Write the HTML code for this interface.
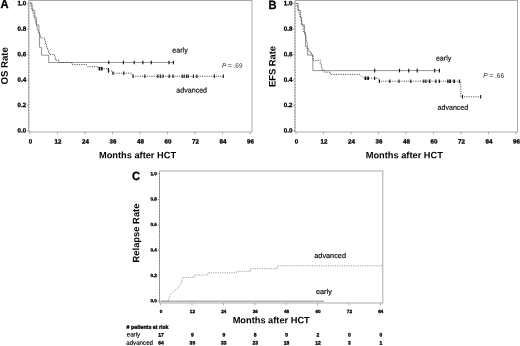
<!DOCTYPE html>
<html><head><meta charset="utf-8"><title>Figure</title>
<style>
html,body{margin:0;padding:0;background:#fff;}
body{width:520px;height:346px;overflow:hidden;font-family:"Liberation Sans",sans-serif;}
svg{display:block;text-rendering:geometricPrecision;font-family:"Liberation Sans",sans-serif;filter:blur(0.35px);}
</style></head><body>
<svg width="520" height="346" viewBox="0 0 520 346">
<rect x="0" y="0" width="520" height="346" fill="#fff"/>
<rect x="28.8" y="0.5" width="223.2" height="131.5" fill="none" stroke="#a2a2a2" stroke-width="0.9"/><line x1="28.8" y1="2.5" x2="28.8" y2="132" stroke="#6f6f6f" stroke-width="0.8" stroke-dasharray="1.2,1.7"/><line x1="30.0" y1="132" x2="30.0" y2="134.2" stroke="#a2a2a2" stroke-width="0.9"/><text transform="translate(30.40,143.60) rotate(0.03)" font-size="6.2" font-weight="bold" text-anchor="middle" fill="#000" stroke="#000" stroke-width="0.3">0</text><line x1="57.5" y1="132" x2="57.5" y2="134.2" stroke="#a2a2a2" stroke-width="0.9"/><text transform="translate(57.90,143.60) rotate(0.03)" font-size="6.2" font-weight="bold" text-anchor="middle" fill="#000" stroke="#000" stroke-width="0.3">12</text><line x1="85.0" y1="132" x2="85.0" y2="134.2" stroke="#a2a2a2" stroke-width="0.9"/><text transform="translate(85.40,143.60) rotate(0.03)" font-size="6.2" font-weight="bold" text-anchor="middle" fill="#000" stroke="#000" stroke-width="0.3">24</text><line x1="112.5" y1="132" x2="112.5" y2="134.2" stroke="#a2a2a2" stroke-width="0.9"/><text transform="translate(112.90,143.60) rotate(0.03)" font-size="6.2" font-weight="bold" text-anchor="middle" fill="#000" stroke="#000" stroke-width="0.3">36</text><line x1="140.0" y1="132" x2="140.0" y2="134.2" stroke="#a2a2a2" stroke-width="0.9"/><text transform="translate(140.40,143.60) rotate(0.03)" font-size="6.2" font-weight="bold" text-anchor="middle" fill="#000" stroke="#000" stroke-width="0.3">48</text><line x1="167.5" y1="132" x2="167.5" y2="134.2" stroke="#a2a2a2" stroke-width="0.9"/><text transform="translate(167.90,143.60) rotate(0.03)" font-size="6.2" font-weight="bold" text-anchor="middle" fill="#000" stroke="#000" stroke-width="0.3">60</text><line x1="195.0" y1="132" x2="195.0" y2="134.2" stroke="#a2a2a2" stroke-width="0.9"/><text transform="translate(195.40,143.60) rotate(0.03)" font-size="6.2" font-weight="bold" text-anchor="middle" fill="#000" stroke="#000" stroke-width="0.3">72</text><line x1="222.5" y1="132" x2="222.5" y2="134.2" stroke="#a2a2a2" stroke-width="0.9"/><text transform="translate(222.90,143.60) rotate(0.03)" font-size="6.2" font-weight="bold" text-anchor="middle" fill="#000" stroke="#000" stroke-width="0.3">84</text><line x1="250.0" y1="132" x2="250.0" y2="134.2" stroke="#a2a2a2" stroke-width="0.9"/><text transform="translate(250.40,143.60) rotate(0.03)" font-size="6.2" font-weight="bold" text-anchor="middle" fill="#000" stroke="#000" stroke-width="0.3">96</text><line x1="26.8" y1="130.8" x2="28.8" y2="130.8" stroke="#a2a2a2" stroke-width="0.9"/><text transform="translate(26.20,132.53) rotate(0.03)" font-size="6.2" font-weight="bold" text-anchor="end" fill="#000" stroke="#000" stroke-width="0.3">0.0</text><line x1="26.8" y1="105.4" x2="28.8" y2="105.4" stroke="#a2a2a2" stroke-width="0.9"/><text transform="translate(26.20,107.09) rotate(0.03)" font-size="6.2" font-weight="bold" text-anchor="end" fill="#000" stroke="#000" stroke-width="0.3">0.2</text><line x1="26.8" y1="79.9" x2="28.8" y2="79.9" stroke="#a2a2a2" stroke-width="0.9"/><text transform="translate(26.20,81.65) rotate(0.03)" font-size="6.2" font-weight="bold" text-anchor="end" fill="#000" stroke="#000" stroke-width="0.3">0.4</text><line x1="26.8" y1="54.5" x2="28.8" y2="54.5" stroke="#a2a2a2" stroke-width="0.9"/><text transform="translate(26.20,56.21) rotate(0.03)" font-size="6.2" font-weight="bold" text-anchor="end" fill="#000" stroke="#000" stroke-width="0.3">0.6</text><line x1="26.8" y1="29.0" x2="28.8" y2="29.0" stroke="#a2a2a2" stroke-width="0.9"/><text transform="translate(26.20,30.77) rotate(0.03)" font-size="6.2" font-weight="bold" text-anchor="end" fill="#000" stroke="#000" stroke-width="0.3">0.8</text><line x1="26.8" y1="3.6" x2="28.8" y2="3.6" stroke="#a2a2a2" stroke-width="0.9"/><text transform="translate(26.20,5.33) rotate(0.03)" font-size="6.2" font-weight="bold" text-anchor="end" fill="#000" stroke="#000" stroke-width="0.3">1.0</text>
<polyline points="30.0,3.2 32.0,3.2 32.0,10.4 34.8,10.4 34.8,17.8 36.5,17.8 36.5,24.9 38.9,24.9 38.9,33.0 39.5,33.0 39.5,47.3 41.5,47.3 41.5,55.2 48.7,55.2 48.7,62.5 173.4,62.5" fill="none" stroke="#5e5e5e" stroke-width="0.65"/>
<polyline points="30.0,3.2 31.0,3.2 31.0,6.0 32.0,6.0 32.0,9.0 33.0,9.0 33.0,13.0 34.0,13.0 34.0,17.0 35.0,17.0 35.0,21.0 36.0,21.0 36.0,25.0 37.0,25.0 37.0,29.0 38.0,29.0 38.0,32.0 39.5,32.0 39.5,35.0 40.5,35.0 40.5,38.0 44.6,38.0 44.6,41.0 45.5,41.0 45.5,44.0 46.5,44.0 46.5,47.0 47.5,47.0 47.5,50.0 48.5,50.0 48.5,53.0 49.5,53.0 49.5,54.5 54.5,54.5 54.5,57.0 55.5,57.0 55.5,60.3 59.0,60.3 59.0,62.5 72.0,62.5 72.0,64.6 86.5,64.6 88.0,66.7 98.0,66.7 98.0,68.7 107.8,68.7 108.4,71.0 112.0,71.0 113.0,73.2 131.5,73.2 133.0,76.3 223.3,76.3" fill="none" stroke="#333" stroke-width="0.8" stroke-dasharray="1.2,1.1"/>
<line x1="108.7" y1="60.7" x2="108.7" y2="64.3" stroke="#111" stroke-width="1.1"/><line x1="123.4" y1="60.7" x2="123.4" y2="64.3" stroke="#111" stroke-width="1.1"/><line x1="134.2" y1="60.7" x2="134.2" y2="64.3" stroke="#111" stroke-width="1.1"/><line x1="142.9" y1="60.7" x2="142.9" y2="64.3" stroke="#111" stroke-width="1.1"/><line x1="151.3" y1="60.7" x2="151.3" y2="64.3" stroke="#111" stroke-width="1.1"/><line x1="169.0" y1="60.7" x2="169.0" y2="64.3" stroke="#111" stroke-width="1.1"/><line x1="173.4" y1="60.7" x2="173.4" y2="64.3" stroke="#111" stroke-width="1.1"/>
<line x1="99.5" y1="66.9" x2="99.5" y2="70.5" stroke="#111" stroke-width="1.7"/><line x1="101.8" y1="66.9" x2="101.8" y2="70.5" stroke="#111" stroke-width="1.7"/>
<line x1="108.4" y1="67.9" x2="108.4" y2="72.7" stroke="#111" stroke-width="1.1"/>
<line x1="113.0" y1="71.4" x2="113.0" y2="75.0" stroke="#111" stroke-width="1.1"/><line x1="123.8" y1="71.4" x2="123.8" y2="75.0" stroke="#111" stroke-width="1.1"/>
<line x1="133.0" y1="74.5" x2="133.0" y2="78.1" stroke="#111" stroke-width="1.1"/><line x1="144.9" y1="74.5" x2="144.9" y2="78.1" stroke="#111" stroke-width="1.1"/><line x1="157.8" y1="74.5" x2="157.8" y2="78.1" stroke="#111" stroke-width="1.1"/><line x1="160.3" y1="74.5" x2="160.3" y2="78.1" stroke="#111" stroke-width="1.1"/><line x1="163.0" y1="74.5" x2="163.0" y2="78.1" stroke="#111" stroke-width="1.1"/><line x1="169.2" y1="74.5" x2="169.2" y2="78.1" stroke="#111" stroke-width="1.1"/><line x1="173.0" y1="74.5" x2="173.0" y2="78.1" stroke="#111" stroke-width="1.1"/><line x1="182.2" y1="74.5" x2="182.2" y2="78.1" stroke="#111" stroke-width="1.1"/><line x1="184.2" y1="74.5" x2="184.2" y2="78.1" stroke="#111" stroke-width="1.1"/><line x1="186.6" y1="74.5" x2="186.6" y2="78.1" stroke="#111" stroke-width="1.1"/><line x1="188.2" y1="74.5" x2="188.2" y2="78.1" stroke="#111" stroke-width="1.1"/><line x1="193.4" y1="74.5" x2="193.4" y2="78.1" stroke="#111" stroke-width="1.1"/><line x1="196.8" y1="74.5" x2="196.8" y2="78.1" stroke="#111" stroke-width="1.1"/><line x1="214.3" y1="74.5" x2="214.3" y2="78.1" stroke="#111" stroke-width="1.1"/><line x1="223.3" y1="74.5" x2="223.3" y2="78.1" stroke="#111" stroke-width="1.1"/>
<text transform="translate(172.30,52.60) rotate(0.03)" font-size="7.1" font-weight="normal" text-anchor="start" fill="#000" stroke="#000" stroke-width="0.15">early</text>
<text transform="translate(176.30,92.50) rotate(0.03)" font-size="7.1" font-weight="normal" text-anchor="start" fill="#000" stroke="#000" stroke-width="0.15">advanced</text>
<text transform="translate(222.00,67.80) rotate(0.03)" font-size="6.4" font-weight="normal" text-anchor="start" fill="#222"><tspan font-style="italic">P</tspan> = .69</text>
<text transform="translate(0.4,8.4) rotate(0.03) scale(0.93,1)" font-size="12" font-weight="bold" fill="#000" stroke="#000" stroke-width="0.3">A</text>
<text transform="translate(137.50,158.30) rotate(0.03)" font-size="9.25" font-weight="bold" text-anchor="middle" fill="#000">Months after HCT</text>
<text x="0.0" y="0.0" font-size="9.6" font-weight="bold" text-anchor="middle" fill="#000" transform="translate(7.8,65.8) rotate(-90.03)">OS Rate</text>
<rect x="295" y="0.5" width="222.5" height="131.5" fill="none" stroke="#a2a2a2" stroke-width="0.9"/><line x1="295" y1="2.5" x2="295" y2="132" stroke="#6f6f6f" stroke-width="0.8" stroke-dasharray="1.2,1.7"/><line x1="296.0" y1="132" x2="296.0" y2="134.2" stroke="#a2a2a2" stroke-width="0.9"/><text transform="translate(296.40,143.60) rotate(0.03)" font-size="6.2" font-weight="bold" text-anchor="middle" fill="#000" stroke="#000" stroke-width="0.3">0</text><line x1="323.5" y1="132" x2="323.5" y2="134.2" stroke="#a2a2a2" stroke-width="0.9"/><text transform="translate(323.90,143.60) rotate(0.03)" font-size="6.2" font-weight="bold" text-anchor="middle" fill="#000" stroke="#000" stroke-width="0.3">12</text><line x1="351.0" y1="132" x2="351.0" y2="134.2" stroke="#a2a2a2" stroke-width="0.9"/><text transform="translate(351.40,143.60) rotate(0.03)" font-size="6.2" font-weight="bold" text-anchor="middle" fill="#000" stroke="#000" stroke-width="0.3">24</text><line x1="378.5" y1="132" x2="378.5" y2="134.2" stroke="#a2a2a2" stroke-width="0.9"/><text transform="translate(378.90,143.60) rotate(0.03)" font-size="6.2" font-weight="bold" text-anchor="middle" fill="#000" stroke="#000" stroke-width="0.3">36</text><line x1="406.0" y1="132" x2="406.0" y2="134.2" stroke="#a2a2a2" stroke-width="0.9"/><text transform="translate(406.40,143.60) rotate(0.03)" font-size="6.2" font-weight="bold" text-anchor="middle" fill="#000" stroke="#000" stroke-width="0.3">48</text><line x1="433.5" y1="132" x2="433.5" y2="134.2" stroke="#a2a2a2" stroke-width="0.9"/><text transform="translate(433.90,143.60) rotate(0.03)" font-size="6.2" font-weight="bold" text-anchor="middle" fill="#000" stroke="#000" stroke-width="0.3">60</text><line x1="461.0" y1="132" x2="461.0" y2="134.2" stroke="#a2a2a2" stroke-width="0.9"/><text transform="translate(461.40,143.60) rotate(0.03)" font-size="6.2" font-weight="bold" text-anchor="middle" fill="#000" stroke="#000" stroke-width="0.3">72</text><line x1="488.5" y1="132" x2="488.5" y2="134.2" stroke="#a2a2a2" stroke-width="0.9"/><text transform="translate(488.90,143.60) rotate(0.03)" font-size="6.2" font-weight="bold" text-anchor="middle" fill="#000" stroke="#000" stroke-width="0.3">84</text><line x1="516.0" y1="132" x2="516.0" y2="134.2" stroke="#a2a2a2" stroke-width="0.9"/><text transform="translate(516.40,143.60) rotate(0.03)" font-size="6.2" font-weight="bold" text-anchor="middle" fill="#000" stroke="#000" stroke-width="0.3">96</text><line x1="293" y1="130.8" x2="295" y2="130.8" stroke="#a2a2a2" stroke-width="0.9"/><text transform="translate(292.40,132.53) rotate(0.03)" font-size="6.2" font-weight="bold" text-anchor="end" fill="#000" stroke="#000" stroke-width="0.3">0.0</text><line x1="293" y1="105.4" x2="295" y2="105.4" stroke="#a2a2a2" stroke-width="0.9"/><text transform="translate(292.40,107.09) rotate(0.03)" font-size="6.2" font-weight="bold" text-anchor="end" fill="#000" stroke="#000" stroke-width="0.3">0.2</text><line x1="293" y1="79.9" x2="295" y2="79.9" stroke="#a2a2a2" stroke-width="0.9"/><text transform="translate(292.40,81.65) rotate(0.03)" font-size="6.2" font-weight="bold" text-anchor="end" fill="#000" stroke="#000" stroke-width="0.3">0.4</text><line x1="293" y1="54.5" x2="295" y2="54.5" stroke="#a2a2a2" stroke-width="0.9"/><text transform="translate(292.40,56.21) rotate(0.03)" font-size="6.2" font-weight="bold" text-anchor="end" fill="#000" stroke="#000" stroke-width="0.3">0.6</text><line x1="293" y1="29.0" x2="295" y2="29.0" stroke="#a2a2a2" stroke-width="0.9"/><text transform="translate(292.40,30.77) rotate(0.03)" font-size="6.2" font-weight="bold" text-anchor="end" fill="#000" stroke="#000" stroke-width="0.3">0.8</text><line x1="293" y1="3.6" x2="295" y2="3.6" stroke="#a2a2a2" stroke-width="0.9"/><text transform="translate(292.40,5.33) rotate(0.03)" font-size="6.2" font-weight="bold" text-anchor="end" fill="#000" stroke="#000" stroke-width="0.3">1.0</text>
<polyline points="296.4,3.4 298.0,3.4 298.0,10.4 300.6,10.4 300.6,17.5 301.5,17.5 301.5,24.9 304.5,24.9 304.5,33.5 305.6,33.5 305.6,46.8 307.6,46.8 307.6,55.1 312.8,55.1 312.8,70.6 439.4,70.6" fill="none" stroke="#5e5e5e" stroke-width="0.65"/>
<polyline points="296.4,3.4 297.0,3.4 297.0,6.0 298.0,6.0 298.0,10.0 299.0,10.0 299.0,14.0 300.0,14.0 300.0,17.0 301.0,17.0 301.0,21.0 302.0,21.0 302.0,25.0 303.3,25.0 303.3,32.0 305.0,32.0 305.0,36.0 306.2,36.0 306.2,42.0 307.3,42.0 307.3,49.0 309.0,49.0 309.0,52.0 311.4,52.0 311.4,54.9 313.1,54.9 313.1,60.4 320.3,60.4 320.3,64.0 321.4,64.0 321.4,68.0 322.4,68.0 322.4,70.6 324.7,70.6 324.7,72.2 330.5,72.2 330.5,74.4 359.5,74.4 363.8,78.2 378.0,78.2 379.4,81.2 460.8,81.2 460.8,96.8 480.7,96.8" fill="none" stroke="#333" stroke-width="0.8" stroke-dasharray="1.2,1.1"/>
<line x1="374.7" y1="68.8" x2="374.7" y2="72.4" stroke="#111" stroke-width="1.1"/><line x1="399.5" y1="68.8" x2="399.5" y2="72.4" stroke="#111" stroke-width="1.1"/><line x1="408.7" y1="68.8" x2="408.7" y2="72.4" stroke="#111" stroke-width="1.1"/><line x1="417.2" y1="68.8" x2="417.2" y2="72.4" stroke="#111" stroke-width="1.1"/><line x1="434.7" y1="68.8" x2="434.7" y2="72.4" stroke="#111" stroke-width="1.1"/><line x1="439.4" y1="68.8" x2="439.4" y2="72.4" stroke="#111" stroke-width="1.1"/>
<line x1="365.5" y1="76.4" x2="365.5" y2="80.0" stroke="#111" stroke-width="1.7"/><line x1="368.1" y1="76.4" x2="368.1" y2="80.0" stroke="#111" stroke-width="1.7"/>
<line x1="374.7" y1="76.4" x2="374.7" y2="80.0" stroke="#111" stroke-width="1.1"/>
<line x1="379.4" y1="79.4" x2="379.4" y2="83.0" stroke="#111" stroke-width="1.1"/><line x1="389.8" y1="79.4" x2="389.8" y2="83.0" stroke="#111" stroke-width="1.1"/><line x1="399.0" y1="79.4" x2="399.0" y2="83.0" stroke="#111" stroke-width="1.1"/><line x1="410.8" y1="79.4" x2="410.8" y2="83.0" stroke="#111" stroke-width="1.1"/><line x1="423.8" y1="79.4" x2="423.8" y2="83.0" stroke="#111" stroke-width="1.1"/><line x1="425.9" y1="79.4" x2="425.9" y2="83.0" stroke="#111" stroke-width="1.1"/><line x1="435.9" y1="79.4" x2="435.9" y2="83.0" stroke="#111" stroke-width="1.1"/><line x1="439.4" y1="79.4" x2="439.4" y2="83.0" stroke="#111" stroke-width="1.1"/><line x1="447.8" y1="79.4" x2="447.8" y2="83.0" stroke="#111" stroke-width="1.1"/><line x1="449.2" y1="79.4" x2="449.2" y2="83.0" stroke="#111" stroke-width="1.1"/><line x1="450.6" y1="79.4" x2="450.6" y2="83.0" stroke="#111" stroke-width="1.1"/><line x1="459.4" y1="79.4" x2="459.4" y2="83.0" stroke="#111" stroke-width="1.1"/>
<line x1="429.5" y1="79.4" x2="429.5" y2="83.0" stroke="#111" stroke-width="1.6"/><line x1="454.2" y1="79.4" x2="454.2" y2="83.0" stroke="#111" stroke-width="1.6"/>
<line x1="462.5" y1="95.0" x2="462.5" y2="98.6" stroke="#111" stroke-width="1.1"/><line x1="480.7" y1="95.0" x2="480.7" y2="98.6" stroke="#111" stroke-width="1.1"/>
<text transform="translate(435.90,60.60) rotate(0.03)" font-size="7.1" font-weight="normal" text-anchor="start" fill="#000" stroke="#000" stroke-width="0.15">early</text>
<text transform="translate(437.50,109.80) rotate(0.03)" font-size="7.1" font-weight="normal" text-anchor="start" fill="#000" stroke="#000" stroke-width="0.15">advanced</text>
<text transform="translate(483.30,77.80) rotate(0.03)" font-size="6.5" font-weight="normal" text-anchor="start" fill="#222"><tspan font-style="italic">P</tspan> = .66</text>
<text transform="translate(268.4,8.5) rotate(0.03) scale(0.93,1)" font-size="12" font-weight="bold" fill="#000" stroke="#000" stroke-width="0.3">B</text>
<text transform="translate(404.30,158.30) rotate(0.03)" font-size="9.25" font-weight="bold" text-anchor="middle" fill="#000">Months after HCT</text>
<text x="0.0" y="0.0" font-size="9.4" font-weight="bold" text-anchor="middle" fill="#000" transform="translate(275.4,66.5) rotate(-90.03)">EFS Rate</text>
<rect x="159.5" y="171" width="223.3" height="132" fill="none" stroke="#a2a2a2" stroke-width="0.9"/><line x1="159.5" y1="173" x2="159.5" y2="303" stroke="#6f6f6f" stroke-width="0.8" stroke-dasharray="1.2,1.7"/><line x1="160.6" y1="303" x2="160.6" y2="305.2" stroke="#a2a2a2" stroke-width="0.9"/><text transform="translate(161.00,312.90) rotate(0.03)" font-size="4.6" font-weight="bold" text-anchor="middle" fill="#000" stroke="#000" stroke-width="0.3">0</text><line x1="192.0" y1="303" x2="192.0" y2="305.2" stroke="#a2a2a2" stroke-width="0.9"/><text transform="translate(192.40,312.90) rotate(0.03)" font-size="4.6" font-weight="bold" text-anchor="middle" fill="#000" stroke="#000" stroke-width="0.3">12</text><line x1="223.4" y1="303" x2="223.4" y2="305.2" stroke="#a2a2a2" stroke-width="0.9"/><text transform="translate(223.80,312.90) rotate(0.03)" font-size="4.6" font-weight="bold" text-anchor="middle" fill="#000" stroke="#000" stroke-width="0.3">24</text><line x1="254.8" y1="303" x2="254.8" y2="305.2" stroke="#a2a2a2" stroke-width="0.9"/><text transform="translate(255.20,312.90) rotate(0.03)" font-size="4.6" font-weight="bold" text-anchor="middle" fill="#000" stroke="#000" stroke-width="0.3">36</text><line x1="286.2" y1="303" x2="286.2" y2="305.2" stroke="#a2a2a2" stroke-width="0.9"/><text transform="translate(286.60,312.90) rotate(0.03)" font-size="4.6" font-weight="bold" text-anchor="middle" fill="#000" stroke="#000" stroke-width="0.3">48</text><line x1="317.6" y1="303" x2="317.6" y2="305.2" stroke="#a2a2a2" stroke-width="0.9"/><text transform="translate(318.00,312.90) rotate(0.03)" font-size="4.6" font-weight="bold" text-anchor="middle" fill="#000" stroke="#000" stroke-width="0.3">60</text><line x1="349.0" y1="303" x2="349.0" y2="305.2" stroke="#a2a2a2" stroke-width="0.9"/><text transform="translate(349.40,312.90) rotate(0.03)" font-size="4.6" font-weight="bold" text-anchor="middle" fill="#000" stroke="#000" stroke-width="0.3">72</text><line x1="380.4" y1="303" x2="380.4" y2="305.2" stroke="#a2a2a2" stroke-width="0.9"/><text transform="translate(380.80,312.90) rotate(0.03)" font-size="4.6" font-weight="bold" text-anchor="middle" fill="#000" stroke="#000" stroke-width="0.3">84</text><line x1="157.5" y1="301.2" x2="159.5" y2="301.2" stroke="#a2a2a2" stroke-width="0.9"/><text transform="translate(156.80,302.36) rotate(0.03)" font-size="4.6" font-weight="bold" text-anchor="end" fill="#000" stroke="#000" stroke-width="0.3">0.0</text><line x1="157.5" y1="275.8" x2="159.5" y2="275.8" stroke="#a2a2a2" stroke-width="0.9"/><text transform="translate(156.80,276.92) rotate(0.03)" font-size="4.6" font-weight="bold" text-anchor="end" fill="#000" stroke="#000" stroke-width="0.3">0.2</text><line x1="157.5" y1="250.3" x2="159.5" y2="250.3" stroke="#a2a2a2" stroke-width="0.9"/><text transform="translate(156.80,251.48) rotate(0.03)" font-size="4.6" font-weight="bold" text-anchor="end" fill="#000" stroke="#000" stroke-width="0.3">0.4</text><line x1="157.5" y1="224.9" x2="159.5" y2="224.9" stroke="#a2a2a2" stroke-width="0.9"/><text transform="translate(156.80,226.04) rotate(0.03)" font-size="4.6" font-weight="bold" text-anchor="end" fill="#000" stroke="#000" stroke-width="0.3">0.6</text><line x1="157.5" y1="199.4" x2="159.5" y2="199.4" stroke="#a2a2a2" stroke-width="0.9"/><text transform="translate(156.80,200.60) rotate(0.03)" font-size="4.6" font-weight="bold" text-anchor="end" fill="#000" stroke="#000" stroke-width="0.3">0.8</text><line x1="157.5" y1="174.0" x2="159.5" y2="174.0" stroke="#a2a2a2" stroke-width="0.9"/><text transform="translate(156.80,175.16) rotate(0.03)" font-size="4.6" font-weight="bold" text-anchor="end" fill="#000" stroke="#000" stroke-width="0.3">1.0</text>
<polyline points="160.6,301.2 324.0,301.2" fill="none" stroke="#8a8a8a" stroke-width="1.0"/>
<polyline points="160.6,301.2 168.0,301.2 169.5,297.0 171.5,293.1 174.0,291.0 177.5,288.8 179.0,286.0 181.0,283.6 182.0,280.0 182.7,277.5 194.0,277.5 194.0,275.0 207.9,275.0 207.9,272.8 236.7,272.8 236.7,271.3 250.5,271.3 250.5,268.7 277.4,268.7 277.4,265.8 382.8,265.8" fill="none" stroke="#8a8a8a" stroke-width="0.8" stroke-dasharray="1.2,1.1"/>
<text transform="translate(314.30,258.00) rotate(0.03)" font-size="7.3" font-weight="normal" text-anchor="start" fill="#000" stroke="#000" stroke-width="0.15">advanced</text>
<text transform="translate(316.00,294.00) rotate(0.03)" font-size="7.3" font-weight="normal" text-anchor="start" fill="#000" stroke="#000" stroke-width="0.15">early</text>
<text transform="translate(131.9,179.6) rotate(0.03) scale(0.93,1)" font-size="12" font-weight="bold" fill="#000" stroke="#000" stroke-width="0.3">C</text>
<text transform="translate(271.20,323.30) rotate(0.03)" font-size="9.25" font-weight="bold" text-anchor="middle" fill="#000">Months after HCT</text>
<text x="0.0" y="0.0" font-size="9.4" font-weight="bold" text-anchor="middle" fill="#000" transform="translate(139.3,233) rotate(-90.03)">Relapse Rate</text>
<text transform="translate(126.60,328.80) rotate(0.03)" font-size="5.3" font-weight="bold" text-anchor="start" fill="#000" stroke="#000" stroke-width="0.3"># patients at risk</text>
<text transform="translate(126.70,336.40) rotate(0.03)" font-size="6.2" font-weight="normal" text-anchor="start" fill="#000" stroke="#000" stroke-width="0.15">early</text>
<text transform="translate(126.20,344.70) rotate(0.03)" font-size="6.2" font-weight="normal" text-anchor="start" fill="#000" stroke="#000" stroke-width="0.15">advanced</text>
<text transform="translate(161.00,336.40) rotate(0.03)" font-size="5.0" font-weight="bold" text-anchor="middle" fill="#000" stroke="#000" stroke-width="0.3">17</text>
<text transform="translate(161.00,344.60) rotate(0.03)" font-size="5.0" font-weight="bold" text-anchor="middle" fill="#000" stroke="#000" stroke-width="0.3">64</text>
<text transform="translate(192.40,336.40) rotate(0.03)" font-size="5.0" font-weight="bold" text-anchor="middle" fill="#000" stroke="#000" stroke-width="0.3">9</text>
<text transform="translate(192.40,344.60) rotate(0.03)" font-size="5.0" font-weight="bold" text-anchor="middle" fill="#000" stroke="#000" stroke-width="0.3">35</text>
<text transform="translate(223.80,336.40) rotate(0.03)" font-size="5.0" font-weight="bold" text-anchor="middle" fill="#000" stroke="#000" stroke-width="0.3">9</text>
<text transform="translate(223.80,344.60) rotate(0.03)" font-size="5.0" font-weight="bold" text-anchor="middle" fill="#000" stroke="#000" stroke-width="0.3">33</text>
<text transform="translate(255.20,336.40) rotate(0.03)" font-size="5.0" font-weight="bold" text-anchor="middle" fill="#000" stroke="#000" stroke-width="0.3">8</text>
<text transform="translate(255.20,344.60) rotate(0.03)" font-size="5.0" font-weight="bold" text-anchor="middle" fill="#000" stroke="#000" stroke-width="0.3">23</text>
<text transform="translate(286.60,336.40) rotate(0.03)" font-size="5.0" font-weight="bold" text-anchor="middle" fill="#000" stroke="#000" stroke-width="0.3">5</text>
<text transform="translate(286.60,344.60) rotate(0.03)" font-size="5.0" font-weight="bold" text-anchor="middle" fill="#000" stroke="#000" stroke-width="0.3">18</text>
<text transform="translate(318.00,336.40) rotate(0.03)" font-size="5.0" font-weight="bold" text-anchor="middle" fill="#000" stroke="#000" stroke-width="0.3">2</text>
<text transform="translate(318.00,344.60) rotate(0.03)" font-size="5.0" font-weight="bold" text-anchor="middle" fill="#000" stroke="#000" stroke-width="0.3">12</text>
<text transform="translate(349.40,336.40) rotate(0.03)" font-size="5.0" font-weight="bold" text-anchor="middle" fill="#000" stroke="#000" stroke-width="0.3">0</text>
<text transform="translate(349.40,344.60) rotate(0.03)" font-size="5.0" font-weight="bold" text-anchor="middle" fill="#000" stroke="#000" stroke-width="0.3">3</text>
<text transform="translate(380.80,336.40) rotate(0.03)" font-size="5.0" font-weight="bold" text-anchor="middle" fill="#000" stroke="#000" stroke-width="0.3">0</text>
<text transform="translate(380.80,344.60) rotate(0.03)" font-size="5.0" font-weight="bold" text-anchor="middle" fill="#000" stroke="#000" stroke-width="0.3">1</text>
</svg>
</body></html>
